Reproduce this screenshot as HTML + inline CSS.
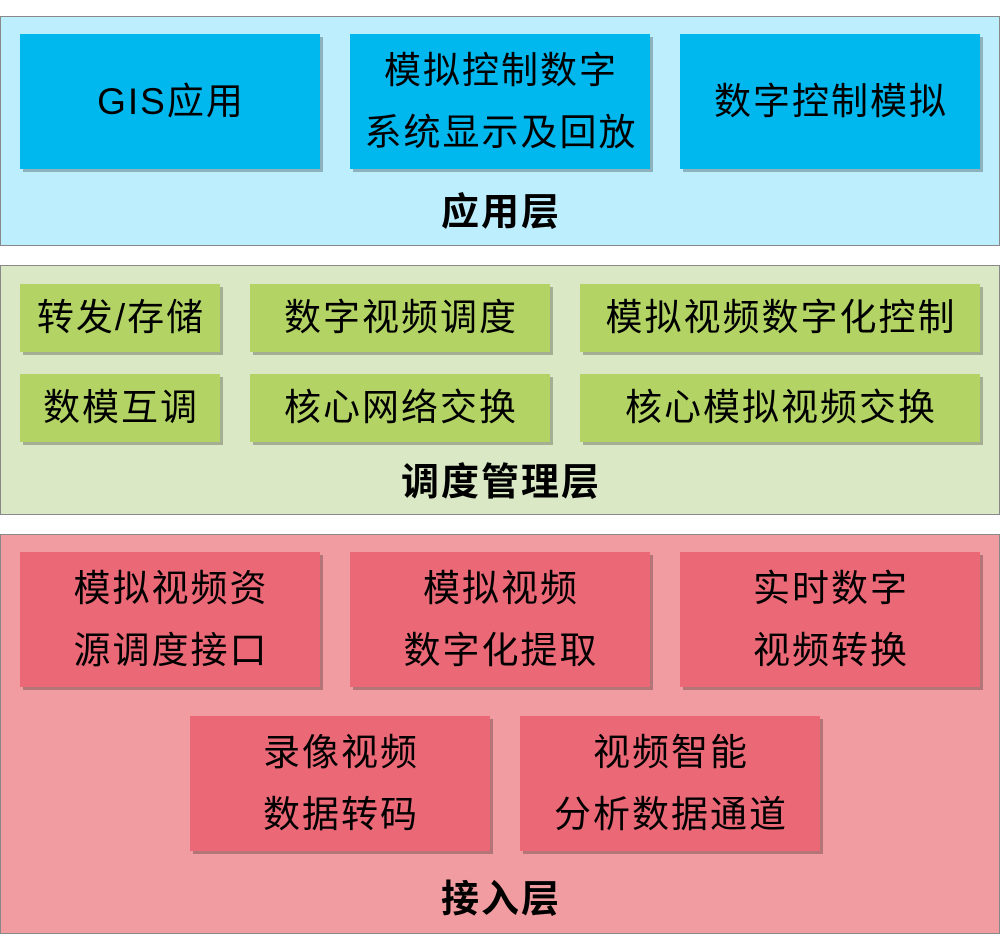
<!DOCTYPE html>
<html><head><meta charset="utf-8"><style>
body{margin:0;width:1000px;height:950px;background:#fff;position:relative;font-family:"Liberation Sans","Noto Sans CJK SC",sans-serif;overflow:hidden}
.l{position:absolute;left:0;width:998px;border:1px solid #888}
.b{position:absolute;display:flex;flex-direction:column;justify-content:center;align-items:center;font-size:37px;letter-spacing:2px;padding-left:2px;box-sizing:border-box;color:#000;line-height:62px;box-shadow:3px 3px 0 rgba(0,0,0,0.25)}
.t{position:absolute;left:0;width:1000px;text-align:center;font-size:38px;letter-spacing:2px;padding-left:2px;box-sizing:border-box;font-weight:bold;line-height:40px}
.bl{background:#00b7ee}.g{background:#b3d465}.r{background:#eb6877}
</style></head><body>
<div class="l" style="top:16px;height:228px;background:#bdeefd"></div>
<div class="l" style="top:265px;height:248px;background:#dae8c5"></div>
<div class="l" style="top:534px;height:398px;background:#f19ca0"></div>

<div class="b bl" style="left:20px;top:34px;width:300px;height:135px">GIS应用</div>
<div class="b bl" style="left:350px;top:34px;width:300px;height:135px"><div>模拟控制数字</div><div>系统显示及回放</div></div>
<div class="b bl" style="left:680px;top:34px;width:300px;height:135px">数字控制模拟</div>
<div class="t" style="top:193px">应用层</div>

<div class="b g" style="left:20px;top:284px;width:200px;height:68px">转发/存储</div>
<div class="b g" style="left:250px;top:284px;width:300px;height:68px">数字视频调度</div>
<div class="b g" style="left:580px;top:284px;width:400px;height:68px">模拟视频数字化控制</div>
<div class="b g" style="left:20px;top:374px;width:200px;height:68px">数模互调</div>
<div class="b g" style="left:250px;top:374px;width:300px;height:68px">核心网络交换</div>
<div class="b g" style="left:580px;top:374px;width:400px;height:68px">核心模拟视频交换</div>
<div class="t" style="top:463px">调度管理层</div>

<div class="b r" style="left:20px;top:552px;width:300px;height:135px"><div>模拟视频资</div><div>源调度接口</div></div>
<div class="b r" style="left:350px;top:552px;width:300px;height:135px"><div>模拟视频</div><div>数字化提取</div></div>
<div class="b r" style="left:680px;top:552px;width:300px;height:135px"><div>实时数字</div><div>视频转换</div></div>
<div class="b r" style="left:190px;top:716px;width:300px;height:135px"><div>录像视频</div><div>数据转码</div></div>
<div class="b r" style="left:520px;top:716px;width:300px;height:135px"><div>视频智能</div><div>分析数据通道</div></div>
<div class="t" style="top:880px">接入层</div>
</body></html>
